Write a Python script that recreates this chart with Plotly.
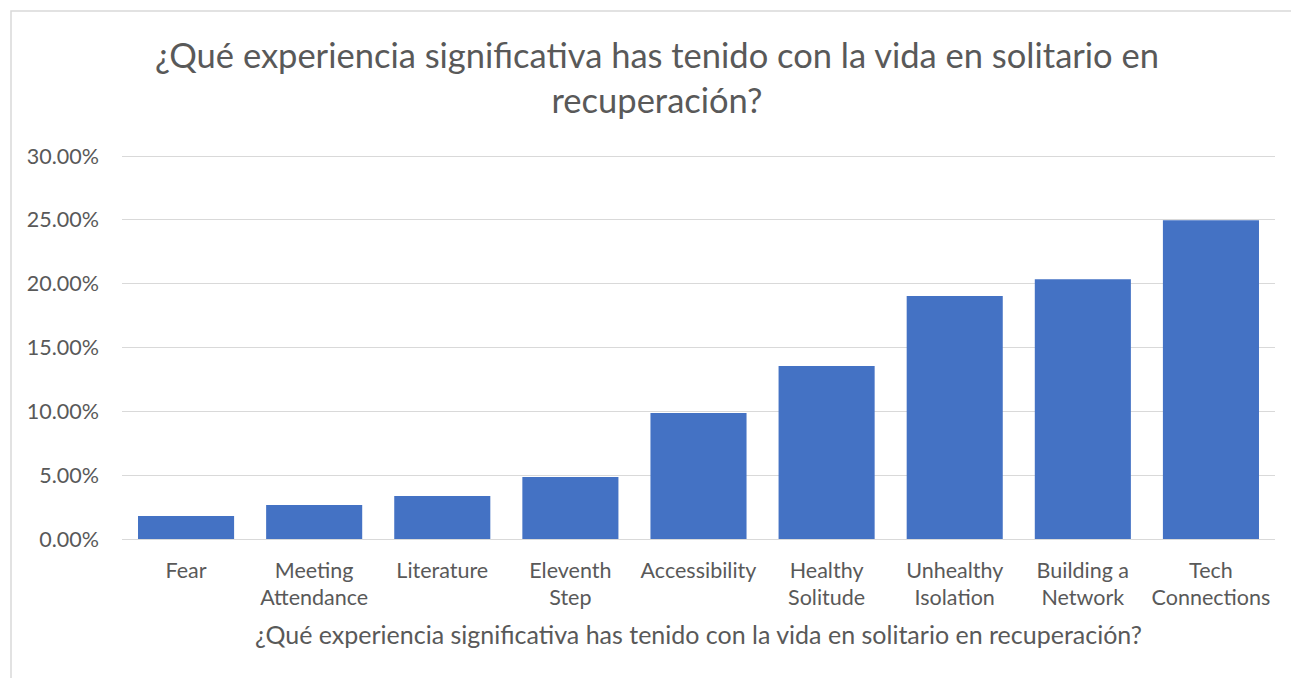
import plotly.graph_objects as go

categories = ["Fear", "Meeting<br>Attendance", "Literature", "Eleventh<br>Step", "Accessibility",
              "Healthy<br>Solitude", "Unhealthy<br>Isolation", "Building a<br>Network", "Tech<br>Connections"]
values = [0.0180, 0.0266, 0.0337, 0.0486, 0.0987, 0.1355, 0.1903, 0.2036, 0.2498]
y_ticks = [0, 0.05, 0.10, 0.15, 0.20, 0.25, 0.30]

title_text = "¿Qué experiencia significativa has tenido con la vida en solitario en<br>recuperación?"
axis_title = "¿Qué experiencia significativa has tenido con la vida en solitario en recuperación?"

W, H = 1291, 678
L, R, T, B = 122, 16, 151, 139
pw, ph = W - L - R, H - T - B

fig = go.Figure(go.Bar(x=categories, y=values, marker=dict(color="#4472C4", line=dict(width=0))))

font_family = "Lato, 'Open Sans', sans-serif"
fig.update_layout(
    width=W, height=H,
    margin=dict(l=L, r=R, t=T, b=B, autoexpand=False),
    paper_bgcolor="white", plot_bgcolor="white",
    bargap=0.25,
    font=dict(family=font_family, color="#595959", size=21.5),
    title=dict(text=title_text, x=657 / W, xanchor="center", y=1 - 68 / H, yanchor="top",
               font=dict(size=34.5, color="#595959", family=font_family)),
    showlegend=False,
)
fig.update_xaxes(showgrid=False, showline=False, ticks="", tickfont=dict(size=21.5, color="#595959"),
                 ticklabelstandoff=16,
                 title=dict(text=axis_title, font=dict(size=25, color="#595959"), standoff=17))
fig.update_yaxes(range=[0, 0.304], tickvals=y_ticks, tickformat=".2%", showgrid=True, gridcolor="#d9d9d9",
                 gridwidth=1, zeroline=True, zerolinecolor="#d9d9d9", zerolinewidth=1,
                 tickfont=dict(size=21.5, color="#595959"), ticks="", ticklabelstandoff=22)

# chart border
fig.add_shape(type="rect", xref="paper", yref="paper",
              x0=(11 - L) / pw, x1=(W + 20 - L) / pw,
              y0=-(H + 20 - T - ph) / ph, y1=1 + (T - 11) / ph,
              line=dict(color="#d9d9d9", width=1.5), fillcolor="rgba(0,0,0,0)", layer="below")

fig.write_html("out.html", config={"displayModeBar": False},
               post_script="document.body.style.margin='0';document.body.style.overflow='hidden';")
